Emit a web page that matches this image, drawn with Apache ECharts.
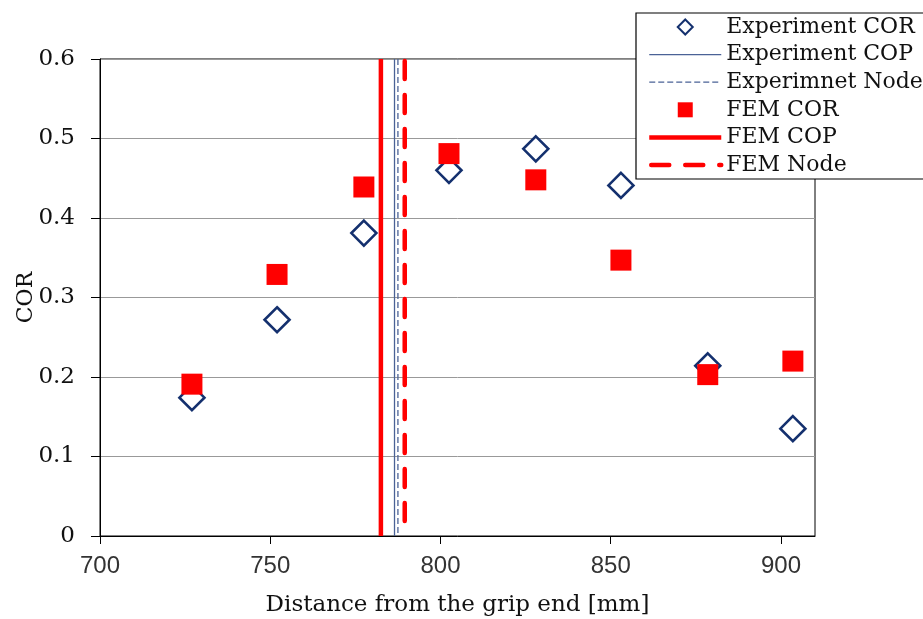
<!DOCTYPE html>
<html><head><meta charset="utf-8">
<script src="https://cdn.jsdelivr.net/npm/echarts@6/dist/echarts.min.js"></script>
<style>html,body{margin:0;padding:0;background:#fff}#c{width:923px;height:619px}</style>
</head><body><div id="c"></div>
<script>
const positions = [727, 752, 777.5, 802.5, 828, 853, 878.5, 903.5];
const expCOR = [0.174, 0.272, 0.381, 0.460, 0.487, 0.441, 0.214, 0.135];
const femCOR = [0.191, 0.329, 0.439, 0.481, 0.448, 0.347, 0.203, 0.220];
const expCOP = 786.5;
const expNode = 787.5;
const femCOP = 782.5;
const femNode = 789.5;
const xTicks = [700, 750, 800, 850, 900];
const yRange = [0, 0.6];

const serif = 'DejaVu Serif';
const pair = (xs, ys) => xs.map((x, i) => [x, ys[i]]);
const vline = x => yRange.map(y => [x, y]);
const vlineDown = x => yRange.slice().reverse().map(y => [x, y]);
const noSym = {opacity: 0};

const chart = echarts.init(document.getElementById('c'), null, {renderer: 'canvas'});
chart.setOption({
  animation: false,
  backgroundColor: '#fff',
  grid: {left: 100, right: 108, top: 59, bottom: 83, outerBoundsMode: 'none', containLabel: false,
         show: true, borderColor: '#000', borderWidth: 1, backgroundColor: 'transparent'},
  legend: {
    orient: 'vertical', left: 636, top: 13,
    backgroundColor: '#fff', borderColor: '#000', borderWidth: 1.2,
    padding: [3, 10, 3, 11], itemGap: 5.6, itemWidth: 72, itemHeight: 15,
    textStyle: {fontFamily: serif, fontSize: 22, lineHeight: 22, color: '#111'},
    data: [
      {name: 'Experiment COR', icon: 'path://M5,0L10,5L5,10L0,5Z'},
      {name: 'Experiment COP', itemStyle: noSym, lineStyle: {width: 1.3}},
      {name: 'Experimnet Node', itemStyle: noSym, lineStyle: {width: 1.3}},
      {name: 'FEM COR', icon: 'path://M0,0H10V10H0Z'},
      {name: 'FEM COP', itemStyle: noSym, lineStyle: {width: 4.5}},
      {name: 'FEM Node', itemStyle: noSym, lineStyle: {width: 4.5}}
    ]
  },
  xAxis: {
    type: 'value', min: 700, max: 910, interval: 50,
    name: 'Distance from the grip end [mm]', nameLocation: 'middle', nameGap: 58, nameMoveOverlap: false,
    nameTextStyle: {fontFamily: serif, fontSize: 23, color: '#111'},
    axisLine: {show: true, lineStyle: {color: '#000', width: 1}},
    axisTick: {show: true, length: 8, customValues: xTicks, lineStyle: {color: '#000'}},
    axisLabel: {customValues: xTicks, fontFamily: 'Liberation Sans', fontSize: 24, color: '#333', margin: 18},
    splitLine: {show: false}
  },
  yAxis: {
    type: 'value', min: 0, max: 0.6, interval: 0.1,
    name: 'COR', nameLocation: 'middle', nameGap: 63, nameRotate: 90, nameMoveOverlap: false,
    nameTextStyle: {fontFamily: serif, fontSize: 22, color: '#111'},
    axisLine: {show: true, lineStyle: {color: '#000', width: 1}},
    axisTick: {show: true, length: 9, lineStyle: {color: '#000'}},
    axisLabel: {fontFamily: serif, fontSize: 23, color: '#111', margin: 25},
    splitLine: {show: true, lineStyle: {color: '#999', width: 1}}
  },
  series: [
    {name: 'FEM COP', type: 'line', data: vline(femCOP), symbol: 'none', z: 2,
     lineStyle: {color: '#ff0000', width: 4.5}},
    {name: 'Experiment COP', type: 'line', data: vline(expCOP), symbol: 'none', z: 2,
     lineStyle: {color: '#4a6296', width: 1.3}},
    {name: 'Experimnet Node', type: 'line', data: vlineDown(expNode), symbol: 'none', z: 2,
     lineStyle: {color: '#4a6296', width: 1.3, type: [6, 3]}},
    {name: 'FEM Node', type: 'line', data: vlineDown(femNode), symbol: 'none', z: 2,
     lineStyle: {color: '#ff0000', width: 4.5, type: [18, 16], cap: 'round', dashOffset: -2}},
    {name: 'Experiment COR', type: 'scatter', data: pair(positions, expCOR), z: 3,
     symbol: 'diamond', symbolSize: 25,
     itemStyle: {color: '#fff', borderColor: '#14306e', borderWidth: 2.6, opacity: 1}},
    {name: 'FEM COR', type: 'scatter', data: pair(positions, femCOR), z: 4,
     symbol: 'rect', symbolSize: 21,
     itemStyle: {color: '#ff0000', opacity: 1}}
  ]
});
</script></body></html>
